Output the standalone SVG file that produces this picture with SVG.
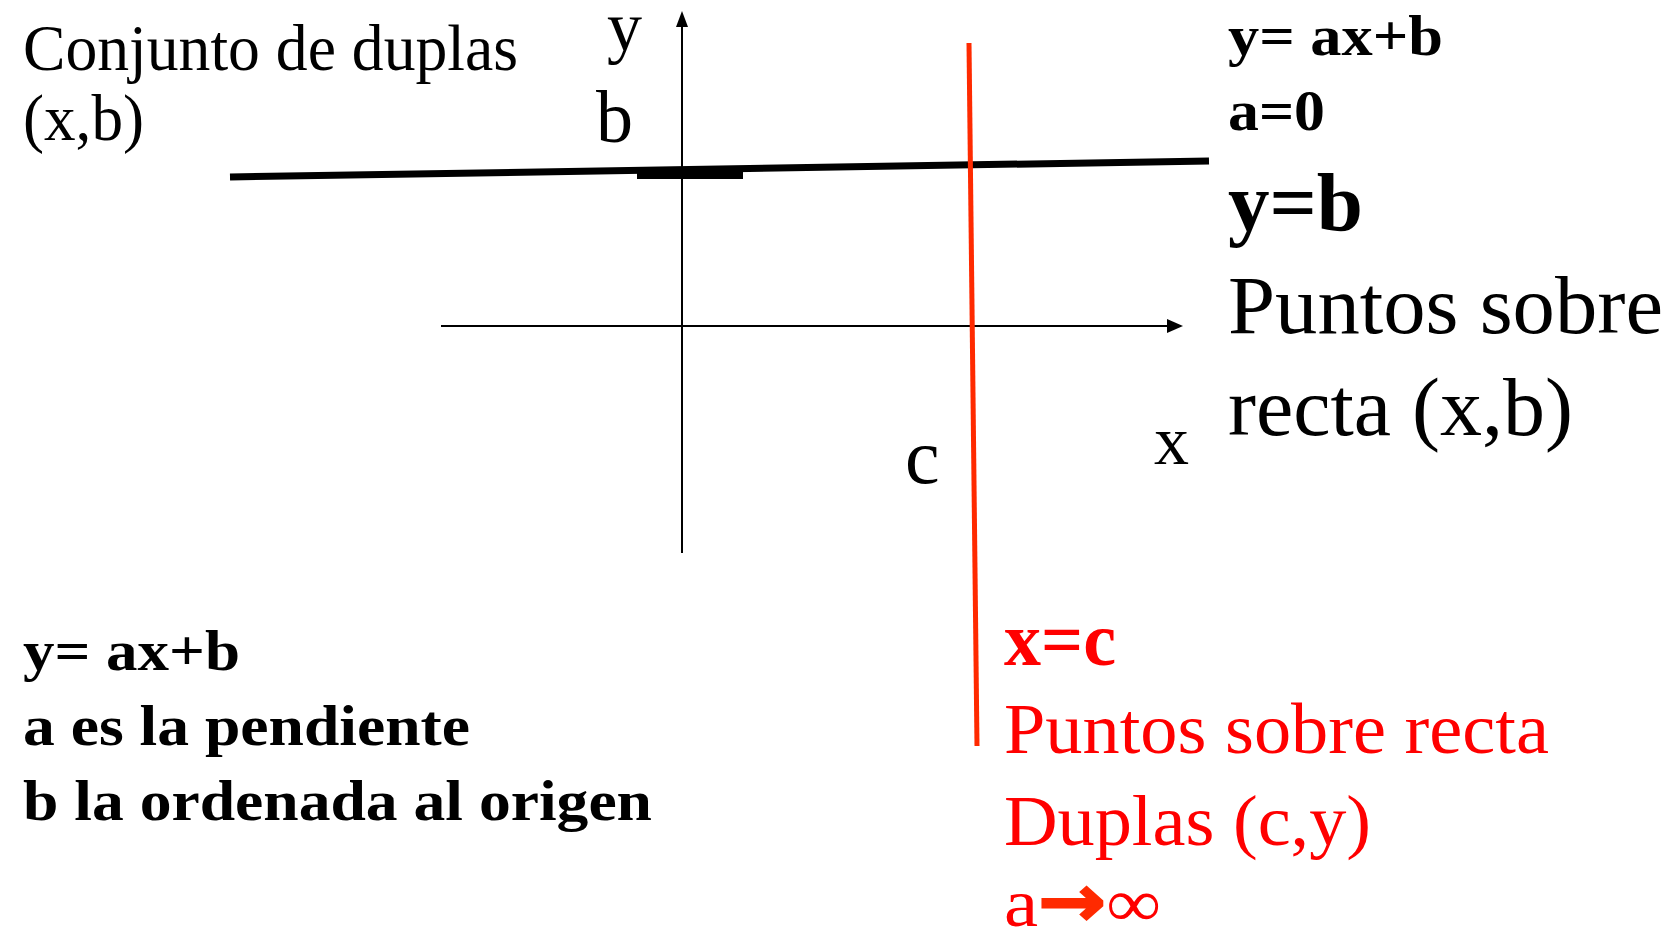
<svg xmlns="http://www.w3.org/2000/svg" width="1675" height="936" viewBox="0 0 1675 936">
<style>
.t{font-family:"Liberation Serif","Times New Roman",serif;fill:#000}
.b{font-weight:bold}
.r{fill:#ff0000}
.ax{stroke:#000;stroke-width:2;fill:none}
</style>
<rect width="1675" height="936" fill="#fff"/>
<g id="connectors">
<line id="x-axis" class="ax" x1="441" y1="326" x2="1170" y2="326"/>
<path d="M1167,319 L1183,326 L1167,333 Z" fill="#000"/>
<line id="y-axis" class="ax" x1="682" y1="553" x2="682" y2="24"/>
<path d="M676,27 L682,11 L688,27 Z" fill="#000"/>
<line id="line-yb" x1="230" y1="177" x2="1209" y2="161" stroke="#000" stroke-width="7"/>
<rect x="637" y="170" width="106" height="9" fill="#000"/>
<line id="line-xc" x1="969" y1="43" x2="977" y2="746" stroke="#ff2a00" stroke-width="5"/>
</g>
<g id="label-topleft">
<text class="t" x="23" y="70" font-size="65" textLength="495" lengthAdjust="spacingAndGlyphs">Conjunto de duplas</text>
<text class="t" x="23" y="140" font-size="65" textLength="121" lengthAdjust="spacingAndGlyphs">(x,b)</text>
</g>
<g id="axis-labels">
<text class="t" x="607" y="50" font-size="70">y</text>
<text class="t" x="596" y="142" font-size="74">b</text>
<text class="t" x="905" y="483" font-size="78">c</text>
<text class="t" x="1154" y="464" font-size="70">x</text>
</g>
<g id="label-right">
<text class="t b" x="1228" y="55" font-size="56" textLength="215" lengthAdjust="spacingAndGlyphs">y= ax+b</text>
<text class="t b" x="1228" y="130" font-size="56" textLength="97" lengthAdjust="spacingAndGlyphs">a=0</text>
<text class="t b" x="1228" y="230" font-size="82" textLength="135" lengthAdjust="spacingAndGlyphs">y=b</text>
<text class="t" x="1228" y="333" font-size="82" textLength="435" lengthAdjust="spacingAndGlyphs">Puntos sobre</text>
<text class="t" x="1228" y="435" font-size="82" textLength="345" lengthAdjust="spacingAndGlyphs">recta (x,b)</text>
</g>
<g id="label-bottomleft">
<text class="t b" x="23" y="670" font-size="56" textLength="217" lengthAdjust="spacingAndGlyphs">y= ax+b</text>
<text class="t b" x="23" y="745" font-size="56" textLength="447" lengthAdjust="spacingAndGlyphs">a es la pendiente</text>
<text class="t b" x="23" y="820" font-size="56" textLength="629" lengthAdjust="spacingAndGlyphs">b la ordenada al origen</text>
</g>
<g id="label-red">
<text class="t b r" x="1004" y="665" font-size="76" textLength="112" lengthAdjust="spacingAndGlyphs">x=c</text>
<text class="t r" x="1004" y="753" font-size="72" textLength="545" lengthAdjust="spacingAndGlyphs">Puntos sobre recta</text>
<text class="t r" x="1004" y="845" font-size="72" textLength="367" lengthAdjust="spacingAndGlyphs">Duplas (c,y)</text>
<text class="t r" x="1004" y="926" font-size="68" textLength="157" lengthAdjust="spacingAndGlyphs">a<tspan fill="#ff2a00" stroke="#ff2a00" stroke-width="2" font-family="DejaVu Sans, sans-serif" font-weight="bold" font-size="72">→</tspan>∞</text>
</g>
</svg>
